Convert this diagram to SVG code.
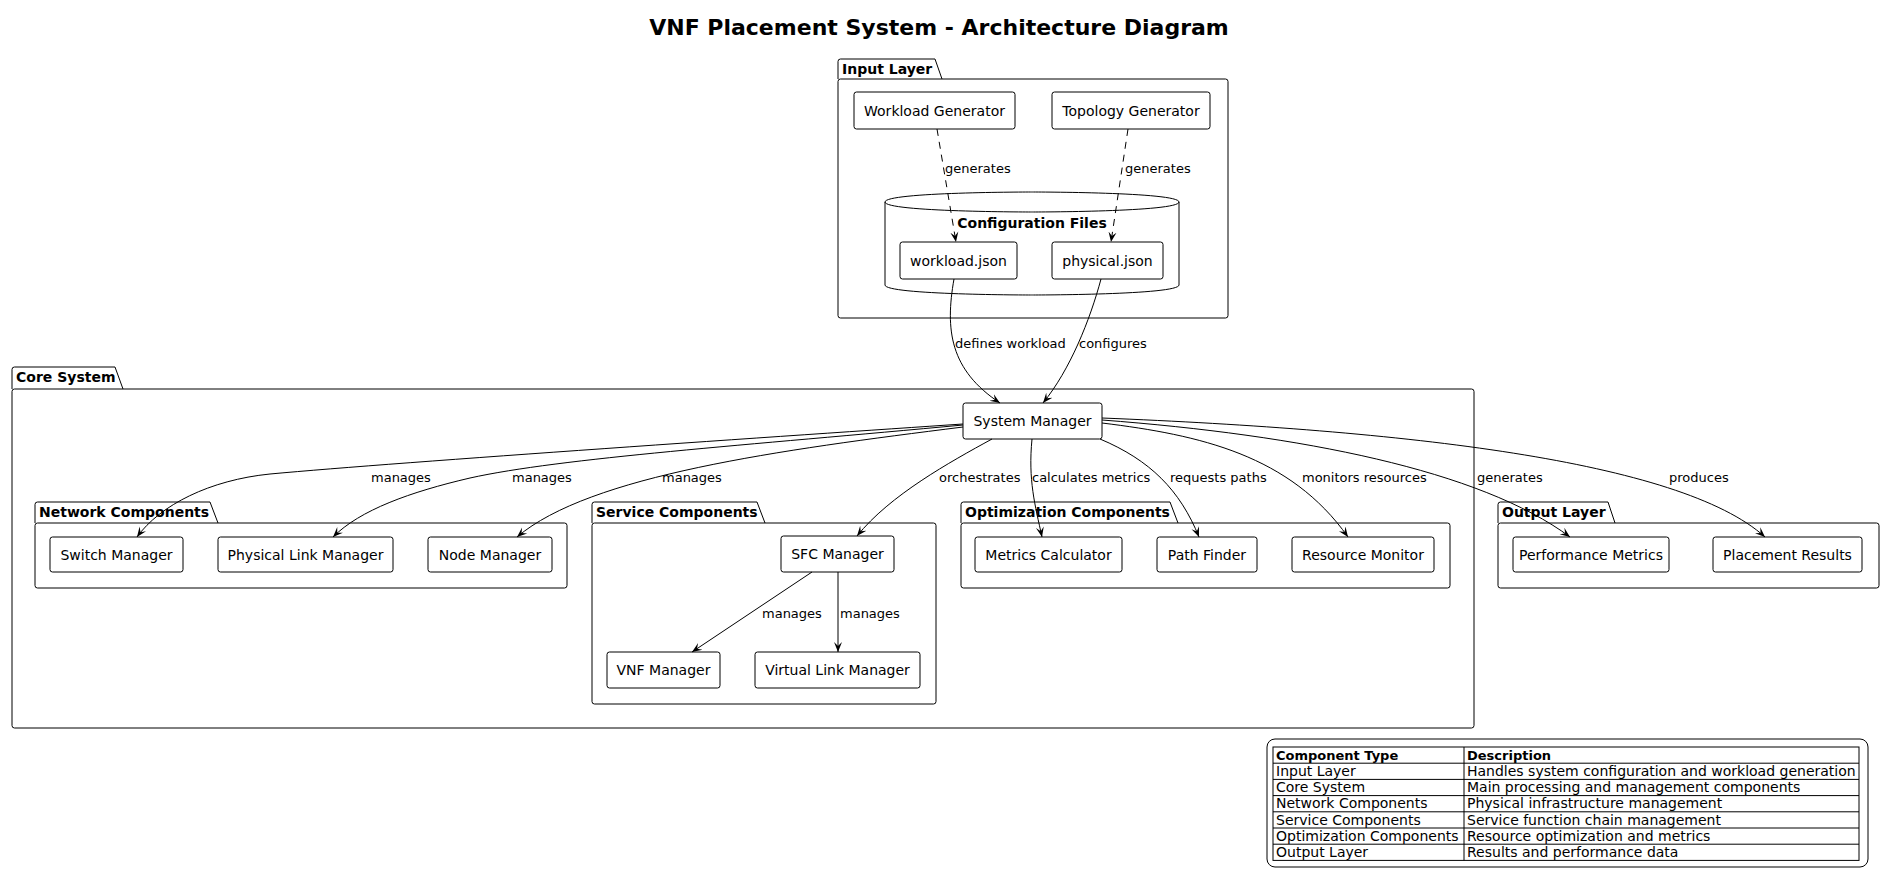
<svg xmlns="http://www.w3.org/2000/svg" width="1885" height="879" viewBox="0 0 1885 879">
<style>
text{font-family:"DejaVu Sans","Liberation Sans",sans-serif;fill:#000}
.title{font-size:22px;font-weight:bold}
.pkg{fill:none;stroke:#000;stroke-width:1}
.pl{font-size:14px;font-weight:bold}
.node rect{fill:#fff;stroke:#000;stroke-width:1}
.nt{font-size:14px;text-anchor:middle}
.lbl{font-size:13px}
.edge{fill:none;stroke:#000;stroke-width:1;marker-end:url(#ah)}
.dash{stroke-dasharray:7,6}
.tb{font-size:14px}
.tbh{font-size:13px;font-weight:bold}
.grid{stroke:#000;stroke-width:1;fill:none}
</style>
<defs>
<marker id="ah" viewBox="0 0 10 10" refX="10" refY="5" markerWidth="10" markerHeight="10" markerUnits="userSpaceOnUse" orient="auto">
<path d="M10,5 L0,1 L4,5 L0,9 Z" fill="#000"/>
</marker>
</defs>
<rect width="1885" height="879" fill="#fff"/>
<text class="title" x="939" y="35" text-anchor="middle">VNF Placement System - Architecture Diagram</text>

<g id="pkg-input">
<rect class="pkg" x="838" y="79" width="390" height="239" rx="2.5"/>
<path class="pkg" d="M838,79 L838,61.5 Q838,59 840.5,59 L935,59 L942,79"/>
<text class="pl" x="842" y="74">Input Layer</text>
</g>
<g id="pkg-core">
<rect class="pkg" x="12" y="389" width="1462" height="339" rx="2.5"/>
<path class="pkg" d="M12,389 L12,369.5 Q12,367 14.5,367 L115,367 L123,389"/>
<text class="pl" x="16" y="382">Core System</text>
</g>
<g id="pkg-network">
<rect class="pkg" x="35" y="523" width="532" height="65" rx="2.5"/>
<path class="pkg" d="M35,523 L35,504.5 Q35,502 37.5,502 L210,502 L218,523"/>
<text class="pl" x="39" y="517">Network Components</text>
</g>
<g id="pkg-service">
<rect class="pkg" x="592" y="523" width="344" height="181" rx="2.5"/>
<path class="pkg" d="M592,523 L592,504.5 Q592,502 594.5,502 L757,502 L765,523"/>
<text class="pl" x="596" y="517">Service Components</text>
</g>
<g id="pkg-optimization">
<rect class="pkg" x="961" y="523" width="489" height="65" rx="2.5"/>
<path class="pkg" d="M961,523 L961,504.5 Q961,502 963.5,502 L1170,502 L1178,523"/>
<text class="pl" x="965" y="517">Optimization Components</text>
</g>
<g id="pkg-output">
<rect class="pkg" x="1498" y="523" width="381" height="65" rx="2.5"/>
<path class="pkg" d="M1498,523 L1498,504.5 Q1498,502 1500.5,502 L1608,502 L1615,523"/>
<text class="pl" x="1502" y="517">Output Layer</text>
</g>

<g id="config-files">
<path d="M885,202 C885,192 1032,192 1032,192 C1032,192 1179,192 1179,202 L1179,285 C1179,295 1032,295 1032,295 C1032,295 885,295 885,285 Z" fill="#fff" stroke="#000" stroke-width="1"/>
<path d="M885,202 C885,212 1032,212 1032,212 C1032,212 1179,212 1179,202" fill="none" stroke="#000" stroke-width="1"/>
<text class="pl" x="1032" y="228" text-anchor="middle">Configuration Files</text>
</g>

<g id="n-workload-gen" class="node"><rect x="854" y="92" width="161" height="37" rx="2.5"/><text class="nt" x="934.5" y="115.5">Workload Generator</text></g>
<g id="n-topology-gen" class="node"><rect x="1052" y="92" width="158" height="37" rx="2.5"/><text class="nt" x="1131" y="115.5">Topology Generator</text></g>
<g id="n-workload-json" class="node"><rect x="900" y="242" width="117" height="37" rx="2.5"/><text class="nt" x="958.5" y="265.5">workload.json</text></g>
<g id="n-physical-json" class="node"><rect x="1052" y="242" width="111" height="37" rx="2.5"/><text class="nt" x="1107.5" y="265.5">physical.json</text></g>
<g id="n-system-manager" class="node"><rect x="963" y="403" width="139" height="36" rx="2.5"/><text class="nt" x="1032.5" y="426">System Manager</text></g>
<g id="n-switch" class="node"><rect x="50" y="537" width="133" height="35" rx="2.5"/><text class="nt" x="116.5" y="559.5">Switch Manager</text></g>
<g id="n-physlink" class="node"><rect x="218" y="537" width="175" height="35" rx="2.5"/><text class="nt" x="305.5" y="559.5">Physical Link Manager</text></g>
<g id="n-node" class="node"><rect x="428" y="537" width="124" height="35" rx="2.5"/><text class="nt" x="490" y="559.5">Node Manager</text></g>
<g id="n-sfc" class="node"><rect x="781" y="536" width="113" height="36" rx="2.5"/><text class="nt" x="837.5" y="559">SFC Manager</text></g>
<g id="n-vnf" class="node"><rect x="607" y="652" width="113" height="36" rx="2.5"/><text class="nt" x="663.5" y="675">VNF Manager</text></g>
<g id="n-vlink" class="node"><rect x="755" y="652" width="165" height="36" rx="2.5"/><text class="nt" x="837.5" y="675">Virtual Link Manager</text></g>
<g id="n-metrics" class="node"><rect x="975" y="537" width="147" height="35" rx="2.5"/><text class="nt" x="1048.5" y="559.5">Metrics Calculator</text></g>
<g id="n-path" class="node"><rect x="1157" y="537" width="100" height="35" rx="2.5"/><text class="nt" x="1207" y="559.5">Path Finder</text></g>
<g id="n-resource" class="node"><rect x="1292" y="537" width="142" height="35" rx="2.5"/><text class="nt" x="1363" y="559.5">Resource Monitor</text></g>
<g id="n-perf" class="node"><rect x="1513" y="537" width="156" height="35" rx="2.5"/><text class="nt" x="1591" y="559.5">Performance Metrics</text></g>
<g id="n-placement" class="node"><rect x="1713" y="537" width="149" height="35" rx="2.5"/><text class="nt" x="1787.5" y="559.5">Placement Results</text></g>

<g id="connectors">
<path class="edge dash" d="M937,129 L956,242"/>
<path class="edge dash" d="M1128,129 L1111,242"/>
<path class="edge" d="M954,279 C945,330 950,370 1000,403"/>
<path class="edge" d="M1101,279 C1090,320 1070,370 1043,403"/>
<path class="edge" d="M963,424 C800,435 400,462 270,474 C210,480 160,505 137,537"/>
<path class="edge" d="M963,425 C750,445 560,458 470,478 C410,492 360,510 333,537"/>
<path class="edge" d="M963,427 C780,450 590,475 517,537"/>
<path class="edge" d="M992,439 C950,462 890,495 857,536"/>
<path class="edge" d="M1032,439 C1028,480 1035,505 1042,537"/>
<path class="edge" d="M1100,439 C1150,460 1180,490 1199,537"/>
<path class="edge" d="M1102,423 C1200,435 1290,455 1348,537"/>
<path class="edge" d="M1102,420 C1300,435 1480,470 1570,537"/>
<path class="edge" d="M1102,418 C1400,430 1680,460 1765,537"/>
<path class="edge" d="M812,572 L692,652"/>
<path class="edge" d="M838,572 L838,652"/>
<text class="lbl" x="945" y="172.5">generates</text>
<text class="lbl" x="1125" y="172.5">generates</text>
<text class="lbl" x="955" y="347.5">defines workload</text>
<text class="lbl" x="1079" y="347.5">configures</text>
<text class="lbl" x="371" y="482">manages</text>
<text class="lbl" x="512" y="482">manages</text>
<text class="lbl" x="662" y="482">manages</text>
<text class="lbl" x="939" y="482">orchestrates</text>
<text class="lbl" x="1032" y="482">calculates metrics</text>
<text class="lbl" x="1170" y="482">requests paths</text>
<text class="lbl" x="1302" y="482">monitors resources</text>
<text class="lbl" x="1477" y="482">generates</text>
<text class="lbl" x="1669" y="482">produces</text>
<text class="lbl" x="762" y="617.5">manages</text>
<text class="lbl" x="840" y="617.5">manages</text>
</g>

<g id="legend">
<rect x="1267" y="739" width="601" height="128" rx="8" fill="#fff" stroke="#000" stroke-width="1"/>
<rect class="grid" x="1273" y="747" width="586" height="113.4"/>
<path class="grid" d="M1464,747 L1464,860.4 M1273,763.2 L1859,763.2 M1273,779.4 L1859,779.4 M1273,795.6 L1859,795.6 M1273,811.8 L1859,811.8 M1273,828 L1859,828 M1273,844.2 L1859,844.2"/>
<text class="tbh" x="1276" y="759.6">Component Type</text>
<text class="tbh" x="1467" y="759.6">Description</text>
<text class="tb" x="1276" y="776">Input Layer</text>
<text class="tb" x="1467" y="776">Handles system configuration and workload generation</text>
<text class="tb" x="1276" y="792.2">Core System</text>
<text class="tb" x="1467" y="792.2">Main processing and management components</text>
<text class="tb" x="1276" y="808.4">Network Components</text>
<text class="tb" x="1467" y="808.4">Physical infrastructure management</text>
<text class="tb" x="1276" y="824.6">Service Components</text>
<text class="tb" x="1467" y="824.6">Service function chain management</text>
<text class="tb" x="1276" y="840.8">Optimization Components</text>
<text class="tb" x="1467" y="840.8">Resource optimization and metrics</text>
<text class="tb" x="1276" y="857">Output Layer</text>
<text class="tb" x="1467" y="857">Results and performance data</text>
</g>
</svg>
